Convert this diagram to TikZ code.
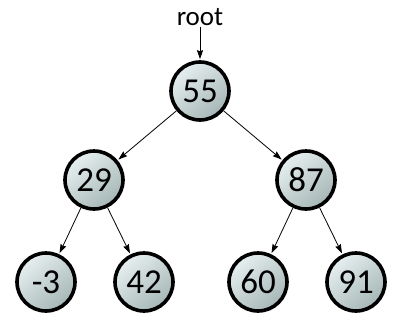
\documentclass[tikz,border=0pt]{standalone}
\usepackage{fontspec}
\setmainfont{Carlito}
\usetikzlibrary{arrows.meta}
\definecolor{lightfill}{HTML}{E6EFEF}
\definecolor{darkfill}{HTML}{A6B6B6}
\begin{document}
\begin{tikzpicture}[x=1pt,y=-1pt,
  treenode/.style={circle, draw=black, line width=3.6pt, minimum size=58pt, inner sep=0pt,
    top color=lightfill, bottom color=darkfill, shading angle=40,
    font=\fontsize{35}{35}\selectfont},
  edge/.style={-{Stealth[length=9pt,width=6pt,inset=1pt]}, line width=0.8pt, shorten >=1pt}]
\useasboundingbox (0,0) rectangle (397,327);
\node[font=\fontsize{27}{27}\selectfont, inner sep=1pt] (root) at (200,17) {root};
\node[treenode] (n55) at (200,91) {55};
\node[treenode] (n29) at (94,180) {29};
\node[treenode] (n87) at (306,180) {87};
\node[treenode] (nm3) at (46,282) {-3};
\node[treenode] (n42) at (144,282) {42};
\node[treenode] (n60) at (258,282) {60};
\node[treenode] (n91) at (356,282) {91};
\draw[edge] (root) -- (n55);
\draw[edge] (n55) -- (n29);
\draw[edge] (n55) -- (n87);
\draw[edge] (n29) -- (nm3);
\draw[edge] (n29) -- (n42);
\draw[edge] (n87) -- (n60);
\draw[edge] (n87) -- (n91);
\end{tikzpicture}
\end{document}
